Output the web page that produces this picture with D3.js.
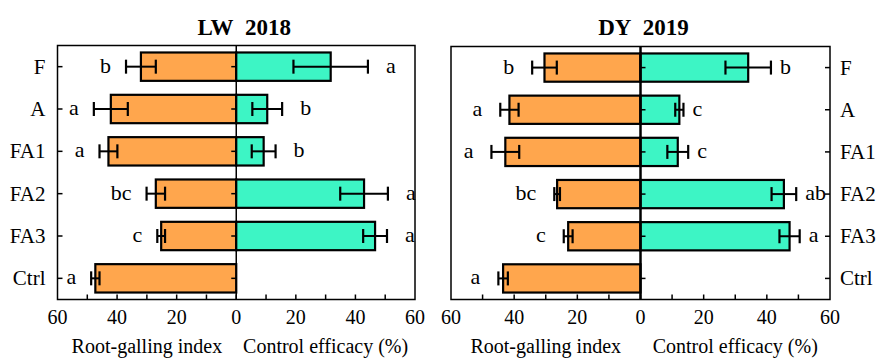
<!DOCTYPE html>
<html>
<head>
<meta charset="utf-8">
<script src="https://cdn.jsdelivr.net/npm/d3@7"></script>
<style>
  html, body { margin: 0; padding: 0; background: #fff; }
  svg { display: block; }
</style>
</head>
<body>
<svg id="chart" width="880" height="359"></svg>
<script>
// ---------- DATA ----------
const categories = ["F", "A", "FA1", "FA2", "FA3", "Ctrl"];
const panelTitles = ["LW\u00A0\u00A02018", "DY\u00A0\u00A02019"];
const tickValues = [-60, -40, -20, 0, 20, 40, 60];
const tickLabels = ["60", "40", "20", "0", "20", "40", "60"];
const leftAxisTitle = "Root-galling index";
const rightAxisTitle = "Control efficacy (%)";

// LW 2018
const lwRGI = [32.0, 42.1, 42.9, 27.0, 25.2, 47.3];
const lwRGIerr = [5.0, 5.7, 3.0, 3.1, 1.3, 1.4];
const lwRGIletters = ["b", "a", "a", "bc", "c", "a"];
const lwCE = [31.7, 10.4, 9.2, 42.9, 46.6, 0];
const lwCEerr = [12.5, 5.0, 4.0, 8.0, 4.0, 0];
const lwCEletters = ["a", "b", "b", "a", "a", ""];

// DY 2019
const dyRGI = [30.4, 41.5, 42.8, 26.4, 22.9, 43.5];
const dyRGIerr = [3.9, 2.9, 4.4, 0.9, 1.4, 1.5];
const dyRGIletters = ["b", "a", "a", "bc", "c", "a"];
const dyCE = [34.1, 12.3, 11.8, 45.4, 47.2, 0];
const dyCEerr = [7.2, 1.3, 3.3, 3.9, 3.2, 0];
const dyCEletters = ["b", "c", "c", "ab", "a", ""];

// ---------- LAYOUT ----------
const orange = "#FFA64D";
const teal = "#3DF5C5";
const FONT = "Liberation Serif";
const svg = d3.select("#chart");

const panels = [
  { title: panelTitles[0], titleDx: 8, left: 57.5, right: 415, top: 45.5, bottom: 299.5,
    rgi: lwRGI, rgiErr: lwRGIerr, rgiLet: lwRGIletters,
    ce: lwCE, ceErr: lwCEerr, ceLet: lwCEletters,
    catSide: "left", centerTickDir: -1, lgap: 15, rgap: 18, centerW: 1.5 },
  { title: panelTitles[1], titleDx: 3, left: 451, right: 830, top: 46.5, bottom: 299.5,
    rgi: dyRGI, rgiErr: dyRGIerr, rgiLet: dyRGIletters,
    ce: dyCE, ceErr: dyCEerr, ceLet: dyCEletters,
    catSide: "right", centerTickDir: 1, lgap: 18, rgap: 9, centerW: 2.5 }
];

function txt(g, x, y, s, size, anchor, weight) {
  const t = g.append("text").attr("x", x).attr("y", y)
    .attr("font-family", FONT).attr("font-size", size)
    .attr("text-anchor", anchor).attr("fill", "#000").text(s);
  if (weight) t.attr("font-weight", weight);
  return t;
}

panels.forEach(p => {
  const g = svg.append("g");
  const x = d3.scaleLinear().domain([-60, 60]).range([p.left, p.right]);
  const y = d3.scaleBand().domain(categories).range([p.top, p.bottom])
    .paddingInner(0.33).paddingOuter(0.165);
  const bw = y.bandwidth();
  const cy = c => y(c) + bw / 2;
  const x0 = x(0);

  txt(g, x0 + p.titleDx, 35, p.title, 23, "middle", "bold");

  g.selectAll(".rgi").data(categories).enter().append("rect")
    .attr("x", (c, i) => x(-p.rgi[i]))
    .attr("y", c => y(c))
    .attr("width", (c, i) => x0 - x(-p.rgi[i]))
    .attr("height", bw)
    .attr("fill", orange).attr("stroke", "#000").attr("stroke-width", 2.2);

  g.selectAll(".ce").data(categories.filter((c, i) => p.ce[i] > 0)).enter().append("rect")
    .attr("x", x0)
    .attr("y", c => y(c))
    .attr("width", c => x(p.ce[categories.indexOf(c)]) - x0)
    .attr("height", bw)
    .attr("fill", teal).attr("stroke", "#000").attr("stroke-width", 2.2);

  const cap = 14;
  function errBar(c, lo, hi) {
    const yy = cy(c);
    g.append("line").attr("x1", lo).attr("x2", hi).attr("y1", yy).attr("y2", yy)
      .attr("stroke", "#000").attr("stroke-width", 2);
    [lo, hi].forEach(xx => g.append("line").attr("x1", xx).attr("x2", xx)
      .attr("y1", yy - cap / 2).attr("y2", yy + cap / 2)
      .attr("stroke", "#000").attr("stroke-width", 2.2));
  }
  categories.forEach((c, i) => {
    errBar(c, x(-(p.rgi[i] + p.rgiErr[i])), x(-(p.rgi[i] - p.rgiErr[i])));
    if (p.ce[i] > 0) errBar(c, x(p.ce[i] - p.ceErr[i]), x(p.ce[i] + p.ceErr[i]));
  });

  categories.forEach((c, i) => {
    txt(g, x(-(p.rgi[i] + p.rgiErr[i])) - p.lgap, cy(c) + 6, p.rgiLet[i], 22, "end");
    if (p.ceLet[i]) txt(g, x(p.ce[i] + p.ceErr[i]) + p.rgap, cy(c) + 6, p.ceLet[i], 22, "start");
  });

  g.append("rect").attr("x", p.left).attr("y", p.top)
    .attr("width", p.right - p.left).attr("height", p.bottom - p.top)
    .attr("fill", "none").attr("stroke", "#000").attr("stroke-width", 1.5);

  g.append("line").attr("x1", x0).attr("x2", x0).attr("y1", p.top).attr("y2", p.bottom)
    .attr("stroke", "#000").attr("stroke-width", p.centerW);

  d3.range(-50, 60, 10).forEach(v => {
    g.append("line").attr("x1", x(v)).attr("x2", x(v))
      .attr("y1", p.bottom).attr("y2", p.bottom - 5)
      .attr("stroke", "#000").attr("stroke-width", 1.5);
  });
  tickValues.forEach((v, i) => txt(g, x(v), 324, tickLabels[i], 20, "middle"));

  txt(g, (p.left + x0) / 2, 353, leftAxisTitle, 20, "middle");
  txt(g, (x0 + p.right) / 2, 353, rightAxisTitle, 20, "middle");

  categories.forEach(c => {
    const yy = cy(c);
    g.append("line").attr("x1", x0).attr("x2", x0 + 5 * p.centerTickDir)
      .attr("y1", yy).attr("y2", yy).attr("stroke", "#000").attr("stroke-width", 1.5);
    if (p.catSide === "left") {
      g.append("line").attr("x1", p.left).attr("x2", p.left + 5).attr("y1", yy).attr("y2", yy)
        .attr("stroke", "#000").attr("stroke-width", 1.5);
      txt(g, p.left - 12, yy + 7, c, 21, "end");
    } else {
      g.append("line").attr("x1", p.right).attr("x2", p.right - 5).attr("y1", yy).attr("y2", yy)
        .attr("stroke", "#000").attr("stroke-width", 1.5);
      txt(g, p.right + 10, yy + 7, c, 21, "start");
    }
  });
});
</script>
</body>
</html>
